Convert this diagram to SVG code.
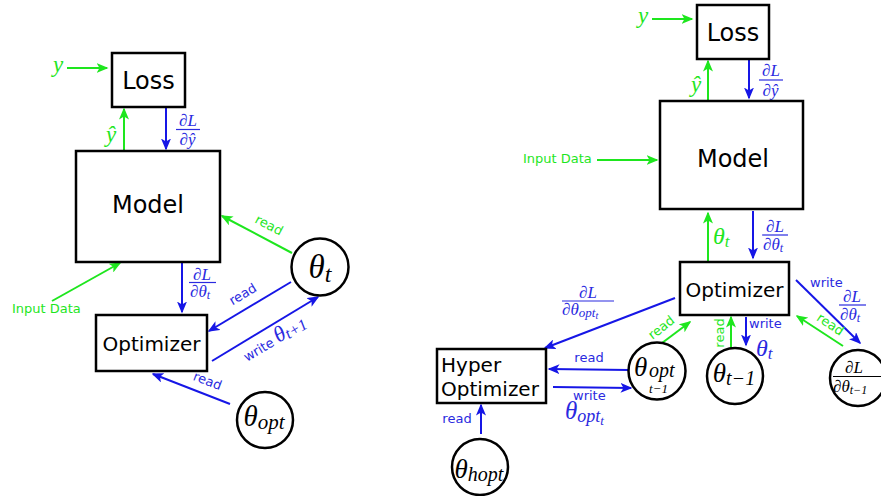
<svg xmlns="http://www.w3.org/2000/svg" width="881" height="496" viewBox="0 0 881 496">
  <style>
    .box{fill:#fff;stroke:#000;stroke-width:2.5}
    .name{font-family:"DejaVu Sans",sans-serif;fill:#000}
    .lab{font-family:"DejaVu Sans",sans-serif;font-size:13px}
    .m{font-family:"Liberation Serif","Times New Roman",serif;font-style:italic}
    .gl{stroke:#1ee61e;stroke-width:2;fill:none;marker-end:url(#ag)}
    .bl{stroke:#1616e6;stroke-width:2;fill:none;marker-end:url(#ab)}
    .gt{fill:#1ee61e}
    .bt{fill:#2a2ae0}
    .bar{stroke:#2a2ae0;stroke-width:1.2}
  </style>
  <defs>
    <marker id="ag" viewBox="0 0 12 10" refX="10.5" refY="5" markerWidth="12" markerHeight="10" markerUnits="userSpaceOnUse" orient="auto">
      <path d="M0,0 L12,5 L0,10 L3,5 z" fill="#1ee61e"/>
    </marker>
    <marker id="ab" viewBox="0 0 12 10" refX="10.5" refY="5" markerWidth="12" markerHeight="10" markerUnits="userSpaceOnUse" orient="auto">
      <path d="M0,0 L12,5 L0,10 L3,5 z" fill="#1616e6"/>
    </marker>
  </defs>
  <rect width="881" height="496" fill="#fff"/>

  <!-- ===== left: plain optimizer ===== -->
  <g id="connectors-left">
    <line class="gl" x1="67" y1="68" x2="107" y2="68"/>
    <line class="gl" x1="124" y1="150" x2="124" y2="109"/>
    <line class="bl" x1="166" y1="108" x2="166" y2="149"/>
    <line class="gl" x1="52" y1="301" x2="120" y2="263"/>
    <line class="bl" x1="182" y1="263" x2="182" y2="312"/>
    <line class="gl" x1="292" y1="253" x2="222" y2="216"/>
    <line class="bl" x1="291" y1="282" x2="209" y2="331"/>
    <line class="bl" x1="212" y1="361" x2="318" y2="297"/>
    <line class="bl" x1="230" y1="404" x2="153" y2="374"/>

    <text class="m gt" x="53" y="72" font-size="23">y</text>
    <text class="m gt" x="111" y="142" font-size="23" text-anchor="middle">ŷ</text>
    <!-- fractions: numerator and denominator as one text, rule between -->
    <line class="bar" x1="176" y1="129.5" x2="200" y2="129.5"/>
    <text class="m bt" font-size="17"><tspan x="179" y="126">∂L</tspan><tspan x="179.5" y="145">∂ŷ</tspan></text>
    <line class="bar" x1="189" y1="282.5" x2="216" y2="282.5"/>
    <text class="m bt" font-size="17"><tspan x="193" y="280">∂L</tspan><tspan x="190" y="297">∂θ</tspan><tspan font-size="12" dy="2">t</tspan></text>
    <text class="lab gt" x="12" y="313">Input Data</text>
    <text class="lab gt" transform="translate(267,229) rotate(28)" text-anchor="middle">read</text>
    <text class="lab bt" transform="translate(245,298) rotate(-31)" text-anchor="middle">read</text>
    <text class="bt" transform="translate(247,362) rotate(-31)"><tspan class="lab">write</tspan><tspan class="m" font-size="22" dx="4">θ</tspan><tspan class="m" font-size="16" dy="2">t+1</tspan></text>
    <text class="lab bt" transform="translate(206,385) rotate(21)" text-anchor="middle">read</text>
  </g>

  <g id="loss-l">
    <rect class="box" x="112" y="53" width="73" height="54"/>
    <text class="name" x="148.5" y="89" font-size="24" text-anchor="middle">Loss</text>
  </g>
  <g id="model-l">
    <rect class="box" x="76" y="151" width="144" height="111"/>
    <text class="name" x="148" y="213" font-size="24" text-anchor="middle">Model</text>
  </g>
  <g id="optimizer-l">
    <rect class="box" x="96" y="315" width="111" height="56"/>
    <text class="name" x="151.5" y="351" font-size="20" text-anchor="middle">Optimizer</text>
  </g>
  <g id="theta-t-l">
    <circle class="box" cx="320" cy="267" r="28.5"/>
    <text class="m" x="320" y="278" font-size="33" text-anchor="middle">θ<tspan font-size="24" dy="4">t</tspan></text>
  </g>
  <g id="theta-opt-l">
    <circle class="box" cx="265" cy="420" r="28"/>
    <text class="m" x="264" y="426" font-size="29" text-anchor="middle">θ<tspan font-size="21" dy="3">opt</tspan></text>
  </g>

  <!-- ===== right: optimizer with hyper optimizer ===== -->
  <g id="connectors-right">
    <line class="gl" x1="652" y1="19" x2="692" y2="19"/>
    <line class="gl" x1="708" y1="100" x2="708" y2="61"/>
    <line class="bl" x1="749" y1="59" x2="749" y2="98"/>
    <line class="gl" x1="597" y1="160" x2="657" y2="160"/>
    <line class="gl" x1="708" y1="261" x2="708" y2="213"/>
    <line class="bl" x1="753" y1="211" x2="753" y2="258"/>
    <line class="bl" x1="675" y1="298" x2="545" y2="348"/>
    <line class="bl" x1="629" y1="370" x2="549" y2="369"/>
    <line class="bl" x1="553" y1="387" x2="631" y2="388"/>
    <line class="bl" x1="481" y1="434" x2="481" y2="405"/>
    <line class="gl" x1="662" y1="343" x2="690" y2="322"/>
    <line class="gl" x1="731" y1="348" x2="731" y2="317"/>
    <line class="bl" x1="746" y1="317" x2="746" y2="345"/>
    <line class="bl" x1="796" y1="280" x2="860" y2="343"/>
    <line class="gl" x1="843" y1="346" x2="797" y2="316"/>

    <text class="m gt" x="638" y="23" font-size="23">y</text>
    <text class="m gt" x="696" y="92" font-size="23" text-anchor="middle">ŷ</text>
    <line class="bar" x1="759" y1="80" x2="783" y2="80"/>
    <text class="m bt" font-size="17"><tspan x="762" y="76">∂L</tspan><tspan x="762.5" y="95.5">∂ŷ</tspan></text>
    <text class="lab gt" x="523" y="163">Input Data</text>
    <text class="m gt" x="713" y="244" font-size="24">θ<tspan font-size="17" dy="3">t</tspan></text>
    <line class="bar" x1="762" y1="235" x2="788" y2="235"/>
    <text class="m bt" font-size="17"><tspan x="766" y="232">∂L</tspan><tspan x="763" y="250">∂θ</tspan><tspan font-size="12" dy="2">t</tspan></text>
    <line class="bar" x1="562" y1="301" x2="614" y2="301"/>
    <text class="m bt" font-size="17"><tspan x="579" y="298">∂L</tspan><tspan x="562" y="315">∂θ</tspan><tspan font-size="13" dy="2">opt</tspan><tspan font-size="10" dy="2">t</tspan></text>
    <text class="lab bt" x="589" y="362" text-anchor="middle">read</text>
    <text class="bt"><tspan class="lab" x="573" y="400">write</tspan><tspan class="m" x="565" y="419" font-size="25">θ</tspan><tspan class="m" font-size="18" dy="3">opt</tspan><tspan class="m" font-size="13" dy="3">t</tspan></text>
    <text class="lab bt" x="457" y="423" text-anchor="middle">read</text>
    <text class="lab gt" transform="translate(664,331) rotate(-38)" text-anchor="middle">read</text>
    <text class="lab gt" transform="translate(724,333) rotate(-90)" text-anchor="middle">read</text>
    <text class="bt"><tspan class="lab" x="749" y="328">write</tspan><tspan class="m" x="756" y="356" font-size="24">θ</tspan><tspan class="m" font-size="17" dy="3">t</tspan></text>
    <line class="bar" x1="839" y1="305" x2="866" y2="305"/>
    <text class="bt"><tspan class="lab" x="810" y="287">write</tspan><tspan class="m" font-size="17" x="843" y="302">∂L</tspan><tspan class="m" font-size="17" x="840" y="320">∂θ</tspan><tspan class="m" font-size="12" dy="2">t</tspan></text>
    <text class="lab gt" transform="translate(828,328) rotate(34)" text-anchor="middle">read</text>
  </g>

  <g id="loss-r">
    <rect class="box" x="697" y="5" width="72" height="54"/>
    <text class="name" x="733" y="41" font-size="24" text-anchor="middle">Loss</text>
  </g>
  <g id="model-r">
    <rect class="box" x="660" y="101" width="143" height="108"/>
    <text class="name" x="733" y="167" font-size="24" text-anchor="middle">Model</text>
  </g>
  <g id="optimizer-r">
    <rect class="box" x="680" y="262" width="109" height="53"/>
    <text class="name" x="734.5" y="297" font-size="20" text-anchor="middle">Optimizer</text>
  </g>
  <g id="hyper-optimizer">
    <rect class="box" x="437" y="349" width="109" height="54"/>
    <text class="name" font-size="20"><tspan x="441" y="372">Hyper</tspan><tspan x="441" y="396">Optimizer</tspan></text>
  </g>
  <g id="theta-opt-prev">
    <circle class="box" cx="657" cy="371" r="28.5"/>
    <text class="m" x="634" y="376" font-size="27">θ<tspan x="649" y="377" font-size="20">opt</tspan><tspan x="649" y="393" font-size="13">t−1</tspan></text>
  </g>
  <g id="theta-prev">
    <circle class="box" cx="735" cy="376" r="28"/>
    <text class="m" x="734" y="382" font-size="27" text-anchor="middle">θ<tspan font-size="20" dy="3">t−1</tspan></text>
  </g>
  <g id="grad-prev">
    <circle class="box" cx="858" cy="378" r="28"/>
    <line x1="833" y1="376.5" x2="881" y2="376.5" stroke="#000" stroke-width="1.2"/>
    <text class="m" font-size="17"><tspan x="845" y="373">∂L</tspan><tspan x="833" y="392">∂θ</tspan><tspan font-size="12" dy="2">t−1</tspan></text>
  </g>
  <g id="theta-hopt">
    <circle class="box" cx="480" cy="467" r="28"/>
    <text class="m" x="479" y="478" font-size="27" text-anchor="middle">θ<tspan font-size="20" dy="3">hopt</tspan></text>
  </g>
</svg>
